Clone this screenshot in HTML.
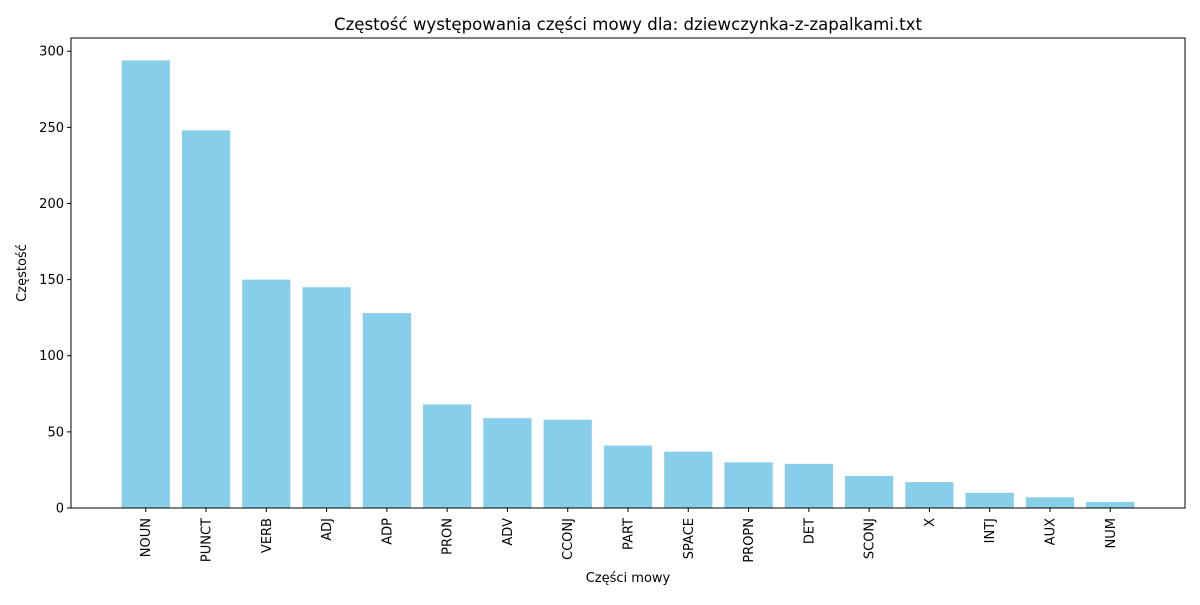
<!DOCTYPE html>
<html><head><meta charset="utf-8"><style>
body{margin:0;background:#fff;}
text{font-family:"DejaVu Sans","Liberation Sans",sans-serif;fill:#000;}
</style></head><body>
<svg id="chart" width="1200" height="600" xmlns="http://www.w3.org/2000/svg"></svg>
<script>
const categories=["NOUN","PUNCT","VERB","ADJ","ADP","PRON","ADV","CCONJ","PART","SPACE","PROPN","DET","SCONJ","X","INTJ","AUX","NUM"];
const values=[294,248,150,145,128,68,59,58,41,37,30,29,21,17,10,7,4];
const yTicks=[0,50,100,150,200,250,300];
const svg=document.getElementById('chart');
const NS='http://www.w3.org/2000/svg';
const L=71,R=1185,T=38,B=508;
const n=categories.length;
const xmin=-0.4-0.05*(n-1+0.8), xmax=n-1+0.4+0.05*(n-1+0.8);
const ymax=Math.max(...values)*1.05;
const xs=v=>L+(v-xmin)/(xmax-xmin)*(R-L);
const ys=v=>B-v/ymax*(B-T);
function mk(tag,attrs,txt){const e=document.createElementNS(NS,tag);for(const k in attrs)e.setAttribute(k,attrs[k]);if(txt!==undefined)e.textContent=txt;svg.appendChild(e);return e;}
const bw=0.8*(R-L)/(xmax-xmin);
values.forEach((v,i)=>{
  const r=mk('rect',{x:xs(i)-bw/2,y:ys(v),width:bw,height:B-ys(v),fill:'#87ceeb'});
  
  
  const cx=xs(i);
  const tk=mk('line',{x1:cx,x2:cx,y1:B,y2:B+4,stroke:'#000','stroke-width':1});
  
  
  const t=mk('text',{x:cx+4.5,y:B+10,'font-size':13,'text-anchor':'end',transform:`rotate(-90 ${cx+4.5} ${B+10})`},categories[i]);
  
  
});
yTicks.forEach(v=>{
  const y=ys(v);
  const tk=mk('line',{x1:L-4,x2:L,y1:y,y2:y,stroke:'#000','stroke-width':1});
  
  
  const t=mk('text',{x:L-7,y:y+4.5,'font-size':13,'text-anchor':'end'},v);
  
  
});
const frame=mk('rect',{x:L,y:T,width:R-L,height:B-T,fill:'none',stroke:'#000','stroke-width':1});


const title=mk('text',{x:(L+R)/2,y:30,'font-size':16.6,'text-anchor':'middle'},'Częstość występowania części mowy dla: dziewczynka-z-zapalkami.txt');


const xt=mk('text',{x:(L+R)/2,y:582,'font-size':13,'text-anchor':'middle'},'Części mowy');


const yt=mk('text',{x:26,y:273,'font-size':13,'text-anchor':'middle',transform:'rotate(-90 26 273)'},'Częstość');


</script>
</body></html>
